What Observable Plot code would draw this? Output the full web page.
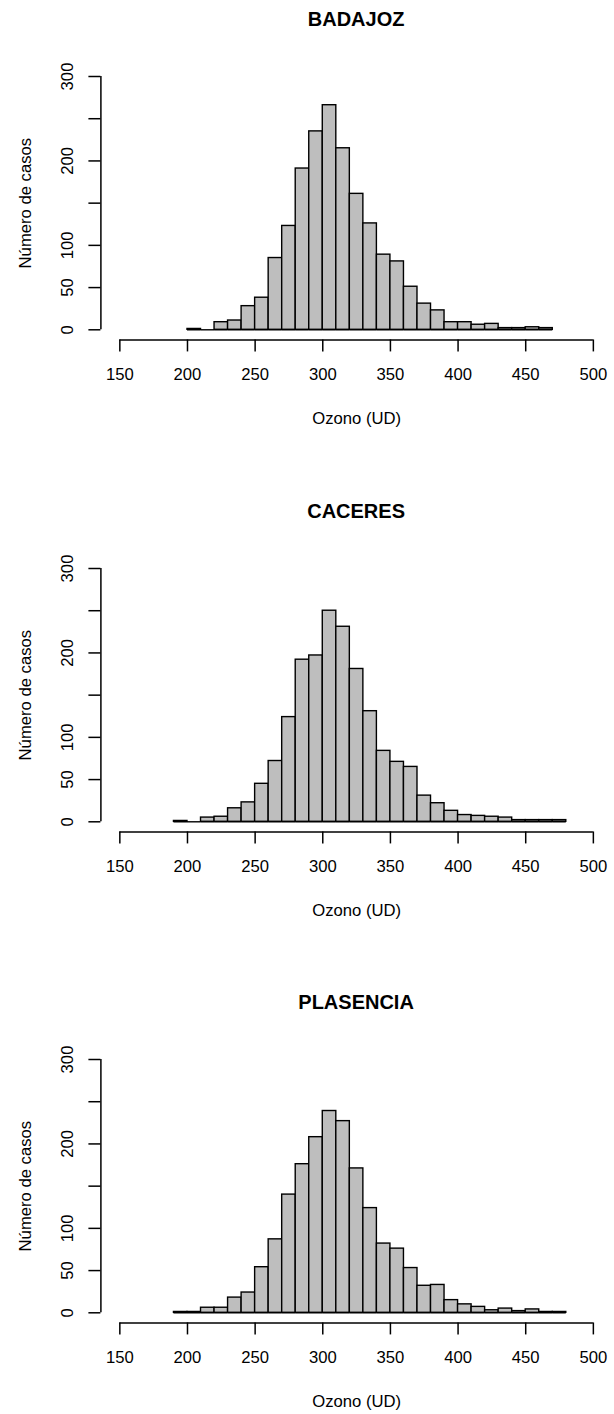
<!DOCTYPE html>
<html>
<head>
<meta charset="utf-8">
<script src="https://cdn.jsdelivr.net/npm/d3@7"></script>
<script src="https://cdn.jsdelivr.net/npm/@observablehq/plot@0.6"></script>
<style>
  html, body { margin: 0; padding: 0; background: white; overflow: hidden; }
  body { width: 614px; height: 1414px; font-family: "Liberation Sans", Arial, Helvetica, sans-serif; }
  .panel { position: relative; width: 614px; }
  .ttl { margin-left: 100.4px; width: 511.4px; height: 38px; line-height: 38px; text-align: center;
         font-weight: 700; font-size: 20px; color: black; }
  svg { display: block; }
</style>
</head>
<body>
<div id="chart"></div>
<script>
// ---- data ----
const stations = ["BADAJOZ", "CACERES", "PLASENCIA"];
const binWidth = 10;
const badajozStart = 200;
const badajozCounts = [1, 0, 9, 11, 28, 38, 85, 123, 191, 235, 266, 215, 161, 126, 89, 81, 51, 31, 23, 9, 9, 6, 7, 2, 2, 3, 2];
const caceresStart = 190;
const caceresCounts = [1, 0, 5, 6, 16, 23, 45, 72, 124, 192, 197, 250, 231, 181, 131, 84, 71, 65, 31, 22, 13, 8, 7, 6, 5, 2, 2, 2, 2];
const plasenciaStart = 190;
const plasenciaCounts = [1, 1, 6, 6, 18, 24, 54, 87, 140, 176, 208, 239, 227, 171, 124, 82, 76, 53, 32, 33, 15, 10, 7, 3, 5, 2, 4, 1, 1];
const xTicks = [150, 200, 250, 300, 350, 400, 450, 500];
const yTicks = [0, 50, 100, 150, 200, 250, 300];
const yTickLabels = [0, 50, 100, 200, 300];
const xLabel = "Ozono (UD)";
const yLabel = "Número de casos";

// ---- build ----
const starts = [badajozStart, caceresStart, plasenciaStart];
const counts = [badajozCounts, caceresCounts, plasenciaCounts];

const xSpan = xTicks[xTicks.length - 1] - xTicks[0];
const ySpan = yTicks[yTicks.length - 1] - yTicks[0];
const xLo = xTicks[0] - 0.04 * xSpan, xHi = xTicks[xTicks.length - 1] + 0.04 * xSpan;
const yLo = yTicks[0] - 0.04 * ySpan, yHi = yTicks[yTicks.length - 1] + 0.04 * ySpan;

const panelH = 491.5, titleH = 38, W = 614;
const frameTop = 27.87, frameBottom = 301.43;
const font = '"Liberation Sans", Arial, Helvetica, sans-serif';
const lw = 1.5;

const root = document.getElementById("chart");
stations.forEach((name, k) => {
  const bins = counts[k].map((n, i) => ({x1: starts[k] + i * binWidth, x2: starts[k] + (i + 1) * binWidth, n}));
  const H = k < 2 ? panelH - titleH : 1414 - 2 * panelH - titleH;
  const panel = document.createElement("div");
  panel.className = "panel";
  const t = document.createElement("div");
  t.className = "ttl";
  t.textContent = name;
  panel.appendChild(t);
  const svg = Plot.plot({
    width: W,
    height: H,
    marginLeft: 100.4,
    marginRight: 2.2,
    marginTop: frameTop,
    marginBottom: H - frameBottom,
    x: {domain: [xLo, xHi]},
    y: {domain: [yLo, yHi]},
    style: {fontFamily: font, fontSize: "16.67px", background: "white", color: "black", overflow: "visible"},
    marks: [
      Plot.rect(bins, {x1: "x1", x2: "x2", y1: 0, y2: "n", fill: "#bebebe", stroke: "black", strokeWidth: 1.4}),
      Plot.ruleY(bins, {x1: "x1", x2: "x2", y: 0, stroke: "black", strokeWidth: 1.4}),
      Plot.ruleY([yLo], {x1: xTicks[0], x2: xTicks[xTicks.length - 1], stroke: "black", strokeWidth: lw}),
      Plot.ruleX([xLo], {y1: yTicks[0], y2: yTicks[yTicks.length - 1], stroke: "black", strokeWidth: lw}),
      Plot.axisX(xTicks, {anchor: "bottom", tickSize: 12, tickPadding: 16.5, strokeWidth: lw, label: null, tickFormat: d => String(d)}),
      Plot.axisY(yTicks, {anchor: "left", tickSize: 12, strokeWidth: lw, label: null, tickFormat: () => ""}),
      Plot.text(yTickLabels, {y: d => d, text: d => String(d), frameAnchor: "left", dx: -33, rotate: -90, textAnchor: "middle", lineAnchor: "middle", fill: "black"}),
      Plot.text([yLabel], {text: d => d, frameAnchor: "left", dx: -75.4, rotate: -90, textAnchor: "middle", lineAnchor: "middle", fill: "black"}),
      Plot.text([xLabel], {text: d => d, frameAnchor: "bottom", dy: 78.6, lineAnchor: "middle", fill: "black"})
    ]
  });
  panel.appendChild(svg);
  root.appendChild(panel);
});
</script>
</body>
</html>
